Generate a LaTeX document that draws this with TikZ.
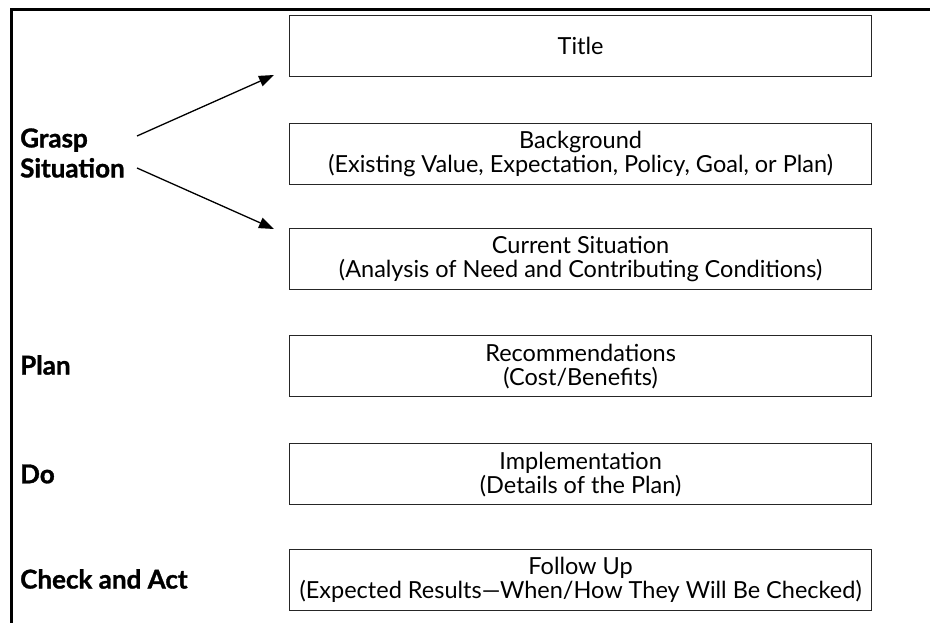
\documentclass[tikz,border=0pt]{standalone}
\usepackage{fontspec}
\setmainfont{Lato}
\newfontfamily\phasefont{Lato}[BoldFeatures={FakeBold=1.2}]
\usetikzlibrary{arrows.meta}
\begin{document}
\begin{tikzpicture}[x=1pt,y=-1pt,
  stage/.style={draw=black!85, line width=1.2pt, minimum width=582pt, minimum height=61pt,
    inner sep=0pt, align=center, font=\fontsize{23.5}{24}\selectfont, anchor=north west},
  phase/.style={anchor=west, font=\phasefont\fontsize{26}{30}\selectfont\bfseries, align=left, inner sep=0pt},
  arr/.style={line width=1.3pt, -{Triangle[length=15pt,width=11pt]}}]
\useasboundingbox (0,0) rectangle (930,623);
\draw[line width=3pt] (11,623) -- (11,10) -- (930,10);
% boxes
\node[stage] (title) at (289,15) {Title};
\node[stage] (bg) at (289,123) {Background\\(Existing Value, Expectation, Policy, Goal, or Plan)};
\node[stage] (cur) at (289,228) {Current Situation\\(Analysis of Need and Contributing Conditions)};
\node[stage] (rec) at (289,335) {Recommendations\\(Cost/Benefits)};
\node[stage] (imp) at (289,443) {Implementation\\(Details of the Plan)};
\node[stage] (fol) at (289,549) {Follow Up\\(Expected Results---When/How They Will Be Checked)};
% phase labels
\node[phase] (grasp) at (20,153) {Grasp\\Situation};
\node[phase] (plan) at (20,365) {Plan};
\node[phase] (do) at (20,474) {Do};
\node[phase] (check) at (20,579) {Check and Act};
% arrows
\coordinate (a1s) at (137,136);
\coordinate (a1e) at (274,75);
\coordinate (a2s) at (137,168);
\coordinate (a2e) at (274,229);
\draw[arr] (a1s) -- (a1e);
\draw[arr] (a2s) -- (a2e);
\end{tikzpicture}
\end{document}
